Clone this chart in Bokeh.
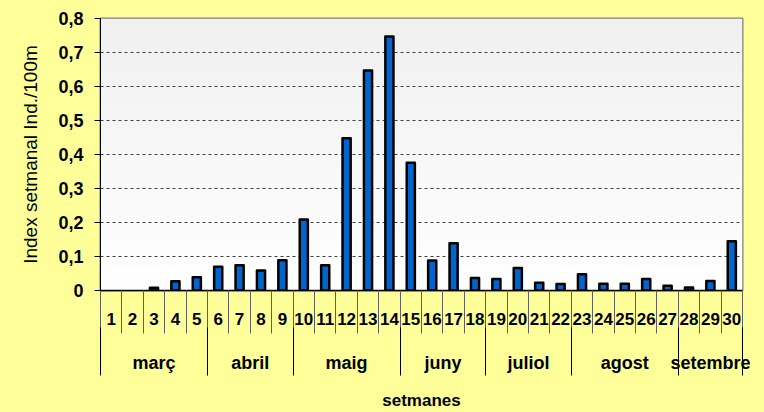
import numpy as np
from bokeh.plotting import figure
from bokeh.models import (ColumnDataSource, Range1d, FixedTicker, CustomJSTickFormatter,
                          LinearAxis)
from bokeh.embed import file_html
from bokeh.resources import INLINE

# ---------------- data ----------------
weeks = [str(i) for i in range(1, 31)]
index_values = [0.0, 0.0, 0.008, 0.027, 0.039, 0.070, 0.074, 0.059, 0.089, 0.209,
                0.074, 0.448, 0.647, 0.747, 0.376, 0.088, 0.139, 0.037, 0.034, 0.066,
                0.023, 0.019, 0.048, 0.020, 0.020, 0.034, 0.014, 0.009, 0.028, 0.145]
months = ["març", "abril", "maig", "juny", "juliol", "agost", "setembre"]
weeks_per_month = [5, 4, 5, 4, 4, 5, 3]
y_ticks = [0, 0.1, 0.2, 0.3, 0.4, 0.5, 0.6, 0.7, 0.8]
y_label = "Index setmanal Ind./100m"
x_label = "setmanes"

# ---------------- styles ----------------
FONT = "Liberation Sans"
YELLOW = "#FFFF99"
W, H = 764, 412
LEFT, RIGHT, TOP, BOTTOM = 100, 22, 18, 122

xr = Range1d(0.5, len(weeks) + 0.5)
yr = Range1d(0, 0.8)

p = figure(width=W, height=H, x_range=xr, y_range=yr,
           output_backend="svg", toolbar_location=None,
           min_border_left=LEFT, min_border_right=RIGHT,
           min_border_top=TOP, min_border_bottom=BOTTOM)
p.border_fill_color = YELLOW
p.background_fill_color = "#F8F8F8"
p.outline_line_color = "#808080"
p.outline_line_width = 2

# gradient plot-area background
N = 64
grad = np.zeros((N, 1, 4), dtype=np.uint8)
g = (255 - 15 * np.arange(N) / (N - 1)).astype(np.uint8)
grad[:, 0, 0] = g
grad[:, 0, 1] = g
grad[:, 0, 2] = g
grad[:, 0, 3] = 255
img = grad.view(dtype=np.uint32).reshape((N, 1))
p.image_rgba(image=[img], x=xr.start, y=yr.start, dw=xr.end - xr.start,
             dh=yr.end - yr.start, level="image")

p.xgrid.visible = False
p.ygrid.ticker = FixedTicker(ticks=y_ticks)
p.ygrid.grid_line_color = "#404040"
p.ygrid.grid_line_dash = "3 3"
p.ygrid.grid_line_width = 1

# ---- y axis ----
ax = p.yaxis[0]
ax.ticker = FixedTicker(ticks=y_ticks)
ax.formatter = CustomJSTickFormatter(
    code="return tick === 0 ? '0' : tick.toFixed(1).replace('.', ',');")
ax.major_label_text_font = FONT
ax.major_label_text_font_style = "bold"
ax.major_label_text_font_size = "18px"
ax.major_label_text_color = "black"
ax.major_label_standoff = 11
ax.major_tick_out = 6
ax.major_tick_in = 0
ax.major_tick_line_color = "black"
ax.minor_tick_line_color = None
ax.axis_line_color = "black"
ax.axis_label = y_label
ax.axis_label_text_font = FONT
ax.axis_label_text_font_style = "normal"
ax.axis_label_text_font_size = "19px"
ax.axis_label_text_color = "black"
ax.axis_label_standoff = 14

# ---- x axis level 1: weeks ----
week_x = [i + 1 for i in range(len(weeks))]
week_bounds = [i + 0.5 for i in range(len(weeks) + 1)]
ax1 = p.xaxis[0]
ax1.ticker = FixedTicker(ticks=week_x, minor_ticks=week_bounds)
ax1.formatter = CustomJSTickFormatter(args=dict(labels=weeks),
                                      code="return labels[Math.round(tick) - 1];")
ax1.major_tick_in = 0
ax1.major_tick_out = 0
ax1.major_tick_line_color = None
ax1.minor_tick_in = 0
ax1.minor_tick_out = 43
ax1.minor_tick_line_color = "#606060"
ax1.axis_line_color = "black"
ax1.axis_line_width = 1.5
ax1.major_label_standoff = -21
ax1.major_label_text_font = FONT
ax1.major_label_text_font_style = "bold"
ax1.major_label_text_font_size = "17px"
ax1.major_label_text_color = "black"

# ---- x axis level 2: months ----
cum = np.concatenate([[0], np.cumsum(weeks_per_month)]) + 0.5
month_bounds = [float(v) for v in cum]
month_centers = [float(v) for v in (cum[:-1] + cum[1:]) / 2]
ax2 = LinearAxis(
    ticker=FixedTicker(ticks=month_centers, minor_ticks=month_bounds),
    formatter=CustomJSTickFormatter(
        args=dict(c=month_centers, n=months),
        code="for (let i = 0; i < c.length; i++) { if (Math.abs(c[i] - tick) < 1e-6) return n[i]; } return '';"))
ax2.major_tick_in = 0
ax2.major_tick_out = 0
ax2.major_tick_line_color = None
ax2.minor_tick_in = 0
ax2.minor_tick_out = 48
ax2.minor_tick_line_color = "black"
ax2.axis_line_color = None
ax2.major_label_standoff = -23
ax2.major_label_text_font = FONT
ax2.major_label_text_font_style = "bold"
ax2.major_label_text_font_size = "18px"
ax2.major_label_text_color = "black"
ax2.axis_label = x_label
ax2.axis_label_standoff = 15
ax2.axis_label_text_font = FONT
ax2.axis_label_text_font_style = "bold"
ax2.axis_label_text_font_size = "17px"
ax2.axis_label_text_color = "black"
p.add_layout(ax2, "below")

# ---- bars ----
xs = [i + 1 for i, v in enumerate(index_values) if v > 0]
tops = [v for v in index_values if v > 0]
src = ColumnDataSource(dict(x=xs, top=tops))
p.vbar(x="x", top="top", width=0.38, source=src, fill_color="#0066CC",
       line_color="black", line_width=2.5, line_join="round")

html = file_html(p, INLINE)
html = html.replace("</head>", "<style>html,body{background:#FFFF99;}</style></head>", 1)
open("out.html", "w").write(html)
